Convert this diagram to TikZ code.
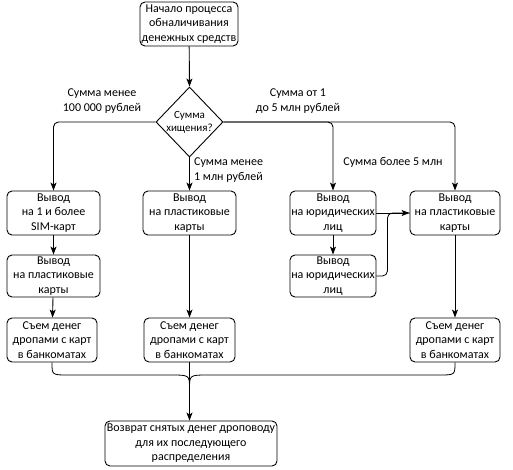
\documentclass[tikz,border=0pt]{standalone}
\usepackage{fontspec}
\setmainfont{Carlito}
\usetikzlibrary{shapes.geometric,arrows.meta,calc}
\begin{document}
\begin{tikzpicture}[x=1pt,y=-1pt,
  font=\fontsize{12}{14.5}\selectfont,
  every node/.style={inner sep=1pt},
  box/.style={draw,rounded corners=5pt,line width=0.9pt,align=center,minimum height=44pt},
  lbl/.style={align=center},
  arr/.style={line width=0.9pt,-{Stealth[length=8pt,width=6pt,inset=2pt]}},
  ln/.style={line width=0.8pt}]
\useasboundingbox (0,0) rectangle (513,470);
\node[box,minimum width=98pt] (start) at (189,24) {Начало процесса\\обналичивания\\денежных средств};
\node[draw,diamond,line width=0.9pt,minimum width=67pt,minimum height=70pt,inner sep=0pt,
  label={[align=center,font=\fontsize{11}{13}\selectfont]center:Сумма\\хищения?}] (dia) at (189.5,122) {};
\node[box,minimum width=93pt] (b1) at (53.5,213) {Вывод\\на 1 и более\\SIM-карт};
\node[box,minimum width=93pt] (b2) at (189.5,213) {Вывод\\на пластиковые\\карты};
\node[box,minimum width=86pt] (b3) at (333,213) {Вывод\\на юридических\\лиц};
\node[box,minimum width=90pt] (b4) at (455,213) {Вывод\\на пластиковые\\карты};
\node[box,minimum width=93pt,minimum height=42pt] (b5) at (53.5,276) {Вывод\\на пластиковые\\карты};
\node[box,minimum width=86pt,minimum height=42pt] (b6) at (333,276) {Вывод\\на юридических\\лиц};
\node[box,minimum width=90pt] (b7) at (52,340) {Съем денег\\дропами с карт\\в банкоматах};
\node[box,minimum width=91pt] (b8) at (189.5,340) {Съем денег\\дропами с карт\\в банкоматах};
\node[box,minimum width=90pt] (b9) at (455,340) {Съем денег\\дропами с карт\\в банкоматах};
\node[box,minimum width=172pt,minimum height=45pt] (fin) at (191,443.5) {Возврат снятых денег дроповоду\\для их последующего\\распределения};
\node[lbl] (l1) at (102,101) {Сумма менее\\100 000 рублей};
\node[lbl] (l2) at (298,101) {Сумма от 1\\до 5 млн рублей};
\node[align=left,anchor=west] (l3) at (193,170) {Сумма менее\\1 млн рублей};
\node[lbl] (l4) at (393,162) {Сумма более 5 млн};
\coordinate (m) at (189.5,389);
\coordinate (la) at (68,375);
\coordinate (lb) at (171,375);
\coordinate (ra) at (208,375);
\coordinate (rb) at (439,375);
\draw[arr] (start) -- (dia.north);
\draw[arr,rounded corners=5pt] (dia.west) -| (b1.north);
\draw[arr,rounded corners=5pt] (dia.east) -| (b4.north);
\draw[arr,rounded corners=5pt] (dia.east) -| (b3.north);
\draw[arr] (dia.south) -- (b2.north);
\draw[arr] (b1) -- (b5);
\draw[arr] (b5) -- (b7);
\draw[arr] (b2) -- (b8);
\draw[arr] (b3) -- (b6);
\draw[arr] (b4) -- (b9);
\draw[arr] (b3.east) -- (b4.west);
\draw[ln,rounded corners=5pt] (b6.east) -- ++(11,0) |- (b4.west);
\draw[arr] (b8.south) -- (b8.south |- fin.north);
\draw[ln] (b7.south) .. controls (b7.south |- la) .. (la) -- (lb) .. controls (m |- lb) .. (m);
\draw[ln] (b9.south) .. controls (b9.south |- rb) .. (rb) -- (ra) .. controls (m |- ra) .. (m);
\end{tikzpicture}
\end{document}
